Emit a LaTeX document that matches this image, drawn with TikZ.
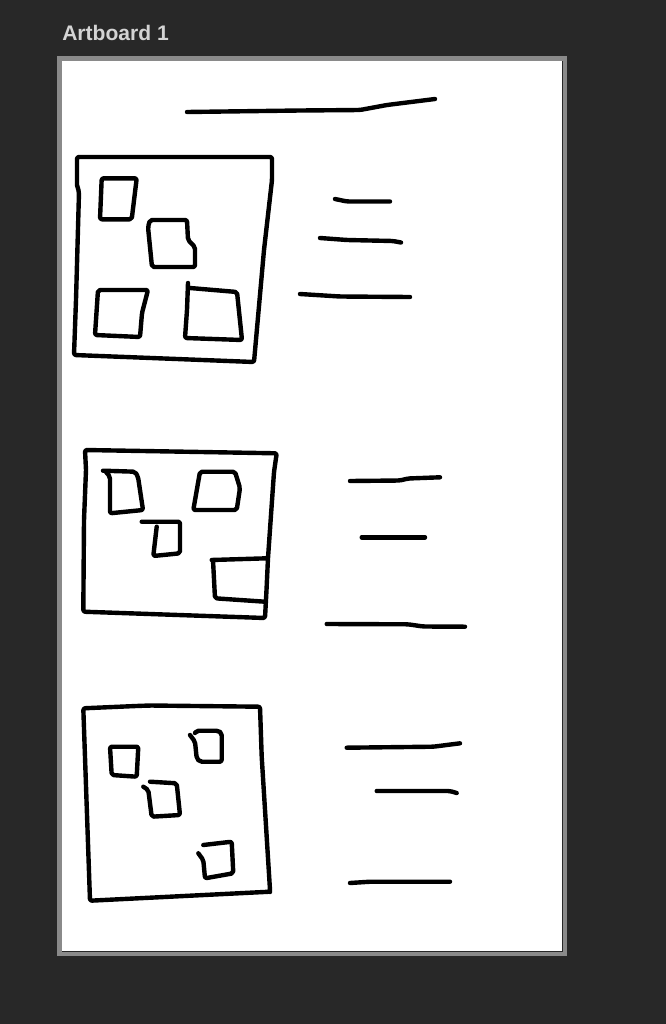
\documentclass[tikz,border=0pt]{standalone}
\usepackage{fontspec}
\setmainfont{Liberation Sans}
\definecolor{bgdark}{HTML}{282828}
\definecolor{framegray}{HTML}{8A8A8A}
\definecolor{labelgray}{HTML}{D4D4D4}
\tikzset{
  ink/.style={line width=3.3pt, line cap=round, line join=round, rounded corners=1.5pt, black},
}
\begin{document}
\begin{tikzpicture}[x=0.75pt, y=-0.75pt]
% background
\fill[bgdark] (0,0) rectangle (666,1024);
\useasboundingbox (0,0) rectangle (666,1024);
% artboard label
\node[anchor=base west, inner sep=0pt, text=labelgray, font=\bfseries\fontsize{15.8}{18}\selectfont] (label) at (62,41) {Artboard 1};
% artboard frame
\fill[framegray] (57,56) rectangle (567,956);
\fill[white] (62,61) rectangle (562,951);
\draw[bgdark, line width=0.75pt] (562.5,61) -- (562.5,951.5) -- (62,951.5);

% ---- title line
\draw[ink] (187,112) -- (300,110.5) -- (360,110) -- (387,105) -- (435,99);

% ---- box 1
\draw[ink] (77,185) -- (77,157) -- (272,157) -- (272,180) -- (264,250) -- (254,362) -- (74,355) -- (76,300) -- (79,192) -- (77,185);
\draw[ink] (101.7,178.3) -- (136.7,178.3) -- (131.7,219.3) -- (100,219.3) -- cycle;
\draw[ink] (148,227) -- (150,220) -- (187,220) -- (188,240) -- (195,247) -- (195,267) -- (152,267) -- cycle;
\draw[ink] (98,290) -- (148,290) -- (142,313) -- (140,337) -- (95,335) -- (97,305) -- cycle;
\draw[ink] (188,283) -- (187,310) -- (185,338) -- (242,340) -- (237,292) -- (190,288);
% lines box 1
\draw[ink] (335,199) -- (347,201.5) -- (390,201.5);
\draw[ink] (320,238) -- (347,240) -- (393,241) -- (401,242.5);
\draw[ink] (300,294) -- (340,296.5) -- (410,297);

% ---- box 2
\draw[ink] (86,470) -- (85,450) -- (276.7,453.3) -- (274,472) -- (268,558) -- (266.5,590) -- (265,618) -- (83.3,611.7) -- (84,520) -- (86,470);
\draw[ink] (103,470.7) -- (135,471.7) -- (138,476.7) -- (143,510) -- (110,513.3) -- (110,476.7) -- (106,472);
\draw[ink] (200,471.7) -- (235,471.7) -- (240,488) -- (236.7,510) -- (193.3,510) -- cycle;
\draw[ink] (141.7,521.7) -- (180,521.7) -- (180,553.3) -- (153.3,556) -- (156.7,526.7);
\draw[ink] (211.7,560) -- (266.7,558.3);
\draw[ink] (213,560) -- (215,598.3) -- (265,601.7);
% lines box 2
\draw[ink] (350,481) -- (400,480.5) -- (408,478.5) -- (440,477.3);
\draw[ink] (361.7,537.3) -- (425,537.3);
\draw[ink] (326.7,624) -- (408,624.3) -- (423.3,626.5) -- (465,626.7);

% ---- box 3
\draw[ink] (83.3,708.3) -- (136,706) -- (150,705.5) -- (260,706.7) -- (261.7,756.7) -- (270,890) -- (270,891.7) -- (90,900.7) -- cycle;
\draw[ink] (110,746.7) -- (138.3,746.7) -- (136.7,776.7) -- (111.7,775) -- cycle;
\draw[ink] (190,735) -- (195,741.7) -- (196.7,758.3) -- (200,761.7) -- (221.7,761.7) -- (221.7,733.3) -- (218.3,730.7) -- (196.7,730.7) -- (195,733);
\draw[ink] (143.3,786.7) -- (148.3,790) -- (151.7,816.7) -- (180,815) -- (176.7,783.3) -- (150,781.7);
\draw[ink] (198.3,853.3) -- (203.3,860) -- (205,878.3) -- (233.3,873.3) -- (231.7,841.7) -- (203.3,845);
% lines box 3
\draw[ink] (346.7,747.7) -- (433.3,746.7) -- (460,743.3);
\draw[ink] (376.7,791) -- (450,791) -- (456.7,793);
\draw[ink] (350,883) -- (370,881.7) -- (450,881.7);
\end{tikzpicture}
\end{document}
